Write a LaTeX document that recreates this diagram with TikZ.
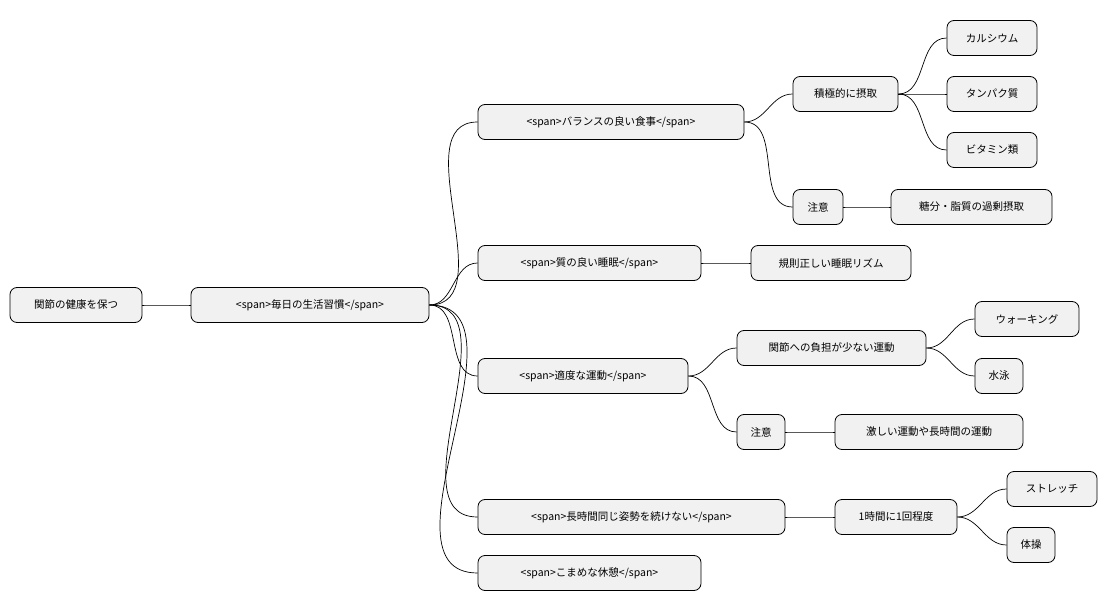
\documentclass[tikz,border=0pt]{standalone}
\usepackage{fontspec}
\setmainfont{Noto Sans CJK JP}
\begin{document}
\begin{tikzpicture}[x=1pt,y=-1pt,
 box/.style={draw=black,line width=0.8pt,fill={rgb,255:red,241;green,241;blue,241},rounded corners=7pt,minimum height=35pt,inner sep=0pt,font=\fontsize{10.5pt}{12pt}\selectfont},
 con/.style={draw=black,line width=0.7pt}]
\useasboundingbox (0,0) rectangle (1108,612);
\newcommand{\bx}[5]{\node[box,minimum width=#3-#2] (#1) at ({(#2+#3)/2},#4) {#5};}
\bx{r}{10}{142}{305}{関節の健康を保つ}
\bx{a}{191}{429}{305}{<span>毎日の生活習慣</span>}
\bx{b1}{478}{744}{122}{<span>バランスの良い食事</span>}
\bx{b2}{478}{701}{263}{<span>質の良い睡眠</span>}
\bx{b3}{478}{688}{376}{<span>適度な運動</span>}
\bx{b4}{478}{785}{517}{<span>長時間同じ姿勢を続けない</span>}
\bx{b5}{478}{701}{573}{<span>こまめな休憩</span>}
\bx{c1}{793}{898}{94}{積極的に摂取}
\bx{c2}{793}{843}{207}{注意}
\bx{d1}{947}{1037}{38}{カルシウム}
\bx{d2}{947}{1037}{94}{タンパク質}
\bx{d3}{947}{1037}{150}{ビタミン類}
\bx{d4}{891}{1052}{207}{糖分・脂質の過剰摂取}
\bx{c3}{751}{911}{263}{規則正しい睡眠リズム}
\bx{c4}{737}{926}{348}{関節への負担が少ない運動}
\bx{e1}{975}{1079}{319}{ウォーキング}
\bx{e2}{975}{1023}{376}{水泳}
\bx{c5}{737}{785}{432}{注意}
\bx{e3}{835}{1023}{432}{激しい運動や長時間の運動}
\bx{c6}{835}{957}{517}{1時間に1回程度}
\bx{f1}{1007}{1097}{489}{ストレッチ}
\bx{f2}{1007}{1055}{545}{体操}
\foreach \p/\c in {r/a,a/b1,a/b2,a/b3,a/b4,a/b5,b1/c1,b1/c2,c1/d1,c1/d2,c1/d3,c2/d4,b2/c3,b3/c4,b3/c5,c4/e1,c4/e2,c5/e3,b4/c6,c6/f1,c6/f2}
  \draw[con] (\p.east) to[out=0,in=180] (\c.west);
\end{tikzpicture}
\end{document}
